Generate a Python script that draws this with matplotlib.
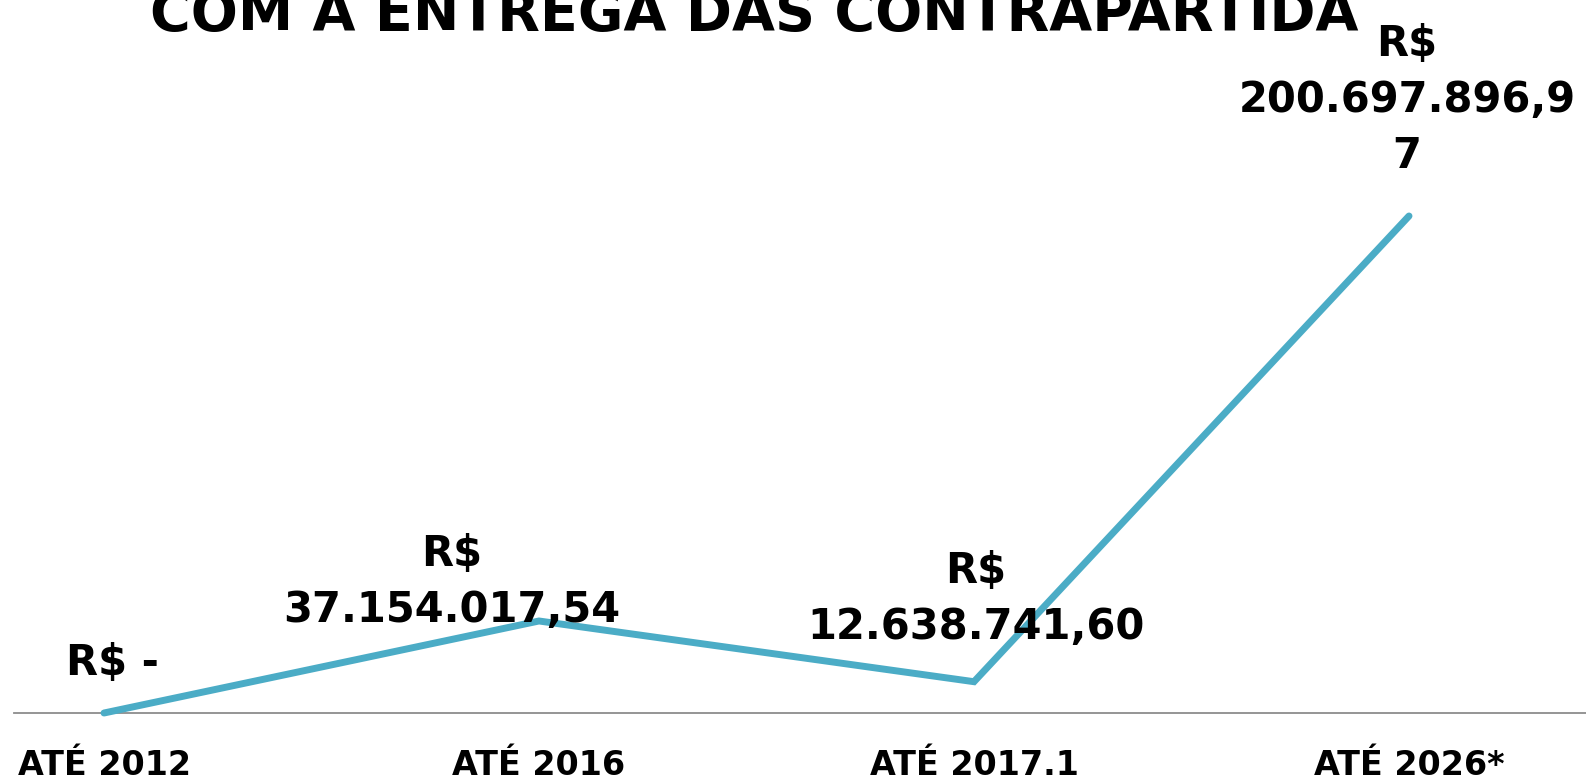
import matplotlib
matplotlib.use("Agg")
import matplotlib.pyplot as plt

categories = ["ATÉ 2012", "ATÉ 2016", "ATÉ 2017.1", "ATÉ 2026*"]
values = [0.0, 37154017.54, 12638741.60, 200697896.97]
value_labels = ["R$ -", "R$\n37.154.017,54", "R$\n12.638.741,60", "R$\n200.697.896,9\n7"]
title = "COM A ENTREGA DAS CONTRAPARTIDA"

W, H = 1586, 784
fig = plt.figure(figsize=(W / 100, H / 100), dpi=100)
base_px = 713  # baseline from top
ax = fig.add_axes([0, (H - base_px) / H, 1, base_px / H])

x = list(range(len(categories)))
first_px, step_px = 104, 435
ax.set_xlim(-first_px / step_px, (W - first_px) / step_px)
scale = 497 / values[3]  # px per unit
ax.set_ylim(0, base_px / scale)

ax.plot(x, values, color="#4BACC6", lw=5.0, solid_capstyle="round", solid_joinstyle="miter", zorder=3, clip_on=False)
ax.plot([(14 - first_px) / step_px, (W - first_px) / step_px], [0, 0], color="#8c8c8c", lw=1.3, zorder=2, clip_on=False)

for s in ax.spines.values():
    s.set_visible(False)
ax.set_yticks([])
ax.set_xticks(x)
ax.set_xticklabels(categories, fontsize=24, fontweight="bold", family="DejaVu Sans")
ax.tick_params(axis="x", length=0, pad=26)

offsets_px = [(8, 50), (-87, 39), (2, 83), (-2, 116)]
for xi, v, lab, (dx, dy) in zip(x, values, value_labels, offsets_px):
    ax.annotate(lab, (xi, v), xytext=(dx * 0.72, dy * 0.72), textcoords="offset points",
                ha="center", va="center", multialignment="center",
                fontsize=30, fontweight="bold", family="DejaVu Sans",
                linespacing=1.42, annotation_clip=False, zorder=4)

fig.text(754 / W, 1 - 30 / H, title, ha="center", va="baseline",
         fontsize=40, fontweight="bold", family="DejaVu Sans")

fig.savefig("out.png", dpi=100, facecolor="white")
